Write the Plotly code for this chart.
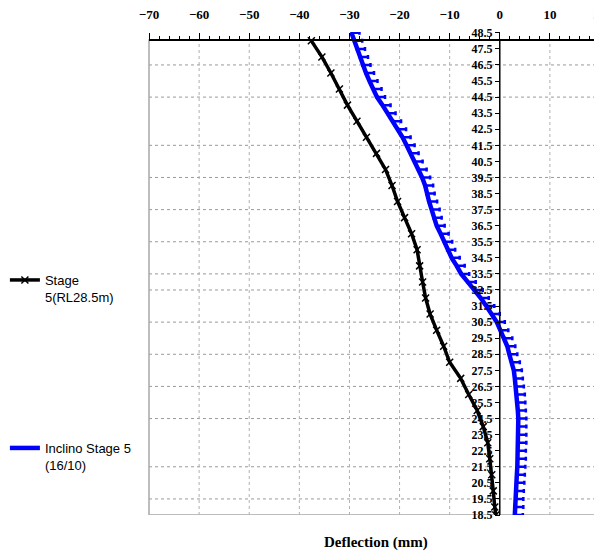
import plotly.graph_objects as go

# ---------------- data ----------------
stage5_depth = [48.0, 47.0, 46.0, 45.0, 44.0, 43.0, 42.0, 41.0, 40.0, 39.0,
                38.0, 37.0, 36.0, 35.0, 34.0, 33.0, 32.0, 31.0, 30.0, 29.0,
                28.0, 27.0, 26.0, 25.0, 24.0, 23.0, 22.0, 21.0, 20.0, 19.0, 18.5]
stage5_defl = [-37.6, -35.5, -33.7, -32.0, -30.4, -28.5, -26.6, -24.6, -22.8, -21.5,
               -20.4, -19.0, -17.6, -16.5, -16.0, -15.4, -14.8, -13.9, -12.6, -11.2,
               -10.0, -7.8, -6.2, -4.5, -3.3, -2.4, -2.0, -1.6, -1.3, -1.0, -0.8]

inclino_depth = [48.5, 48.0, 47.5, 47.0, 46.5, 46.0, 45.5, 45.0, 44.5, 44.0,
                 43.5, 43.0, 42.5, 42.0, 41.5, 41.0, 40.5, 40.0, 39.5, 39.0,
                 38.5, 38.0, 37.5, 37.0, 36.5, 36.0, 35.5, 35.0, 34.5, 34.0,
                 33.5, 33.0, 32.5, 32.0, 31.5, 31.0, 30.5, 30.0, 29.5, 29.0,
                 28.5, 28.0, 27.5, 27.0, 26.5, 26.0, 25.5, 25.0, 24.5, 24.0,
                 23.5, 23.0, 22.5, 22.0, 21.5, 21.0, 20.5, 20.0, 19.5, 19.0, 18.5]
inclino_defl = [-29.6, -29.05, -28.5, -27.9, -27.4, -26.7, -26.0, -25.2, -24.5, -23.4,
                -22.4, -21.3, -20.3, -19.4, -18.6, -17.8, -17.0, -16.2, -15.5, -14.9,
                -14.6, -14.1, -13.6, -13.2, -12.6, -11.8, -11.1, -10.5, -9.6, -8.6,
                -7.7, -6.4, -5.0, -3.8, -2.7, -1.6, -0.6, 0.1, 0.9, 1.5,
                1.9, 2.4, 2.8, 3.0, 3.2, 3.4, 3.5, 3.6, 3.7, 3.7,
                3.7, 3.7, 3.6, 3.6, 3.5, 3.4, 3.3, 3.2, 3.1, 3.1, 3.0]

x_ticks = [-70, -60, -50, -40, -30, -20, -10, 0, 10, 20]
y_ticks = [48.5, 47.5, 46.5, 45.5, 44.5, 43.5, 42.5, 41.5, 40.5, 39.5, 38.5,
           37.5, 36.5, 35.5, 34.5, 33.5, 32.5, 31.5, 30.5, 29.5, 28.5, 27.5,
           26.5, 25.5, 24.5, 23.5, 22.5, 21.5, 20.5, 19.5, 18.5]
h_grid = [46.5, 44.5, 41.5, 39.5, 37.5, 35.5, 33.5, 32.5, 30.5, 28.5,
          26.5, 24.5, 21.5, 19.5]
v_grid = [-60, -50, -40, -30, -20, -10, 10]

X_RANGE = [-70, 20]
Y_RANGE = [18.5, 48.55]
AXIS_TOP = 48.06  # level where the top deflection axis is drawn

serif_bold = dict(family="Liberation Serif", size=12, color="black", weight="bold")
serif_bold_x = dict(family="Liberation Serif", size=13, color="black", weight="bold")
legend_font = dict(family="Liberation Sans", size=13, color="black")

fig = go.Figure()

fig.add_trace(go.Scatter(
    x=stage5_defl, y=stage5_depth, mode="lines+markers",
    name="Stage<br>5(RL28.5m)",
    line=dict(color="black", width=3.5),
    marker=dict(symbol="x-thin-open", size=7, color="black",
                line=dict(color="black", width=1.5)),
    legend="legend", showlegend=True,
))

fig.add_trace(go.Scatter(
    x=inclino_defl, y=inclino_depth, mode="lines",
    name="Inclino Stage 5<br>(16/10)",
    line=dict(color="#0000ff", width=4.5),
    error_x=dict(type="constant", value=1.6, symmetric=False, valueminus=0,
                 color="#0000ff", thickness=2.5, width=2),
    legend="legend2", showlegend=True,
))

shapes = []
for g in h_grid:
    shapes.append(dict(type="line", xref="paper", x0=0, x1=1, yref="y", y0=g, y1=g,
                       line=dict(color="#9a9a9a", width=1, dash="dot"), layer="below"))
for g in v_grid:
    shapes.append(dict(type="line", xref="x", x0=g, x1=g, yref="y", y0=Y_RANGE[0], y1=AXIS_TOP,
                       line=dict(color="#b0b0b0", width=1, dash="dot"), layer="below"))
# plot border
shapes.append(dict(type="rect", xref="paper", x0=0, x1=1, yref="y", y0=Y_RANGE[0], y1=AXIS_TOP,
                   line=dict(color="#a8a8a8", width=1.5), layer="below"))
# vertical axis line at zero deflection
shapes.append(dict(type="line", xref="x", x0=0, x1=0, yref="y", y0=Y_RANGE[0], y1=AXIS_TOP,
                   line=dict(color="black", width=1.5), layer="above"))

x_pos = (AXIS_TOP - Y_RANGE[0]) / (Y_RANGE[1] - Y_RANGE[0])
y_pos = (0 - X_RANGE[0]) / (X_RANGE[1] - X_RANGE[0])

fig.update_layout(
    width=594, height=550,
    margin=dict(l=141, r=2, t=24, b=43, autoexpand=False),
    paper_bgcolor="white", plot_bgcolor="white",
    showlegend=True,
    shapes=shapes,
    xaxis=dict(
        range=X_RANGE, side="top", anchor="free", position=x_pos, automargin=False,
        tickvals=x_ticks, ticks="outside", ticklen=6, tickwidth=1, tickcolor="black",
        minor=dict(dtick=2, ticks="outside", ticklen=3, tickcolor="black"),
        showline=True, linecolor="black", linewidth=1.5, ticklabeloverflow="allow",
        ticklabelstandoff=9,
        showgrid=False, zeroline=False, tickfont=serif_bold_x,
    ),
    yaxis=dict(
        range=Y_RANGE, anchor="free", position=y_pos, side="left", automargin=False,
        tickvals=y_ticks, ticktext=[f"{v:.1f}" for v in y_ticks],
        ticks="outside", ticklen=5, tickcolor="black", ticklabeloverflow="allow",
        showline=False, showgrid=False, zeroline=False, tickfont=serif_bold,
    ),
    legend=dict(x=-0.3195, xanchor="left", y=0.5176, yanchor="top", valign="top",
                font=legend_font, bgcolor="rgba(0,0,0,0)", itemwidth=30),
    legend2=dict(x=-0.3195, xanchor="left", y=0.1698, yanchor="top", valign="top",
                 font=legend_font, bgcolor="rgba(0,0,0,0)", itemwidth=30),
    annotations=[dict(text="Deflection (mm)", xref="paper", yref="paper",
                      x=0.503, y=-0.056, xanchor="center", yanchor="middle",
                      showarrow=False,
                      font=dict(family="Liberation Serif", size=15, color="black", weight="bold"))],
)

fig.write_html("out.html")
